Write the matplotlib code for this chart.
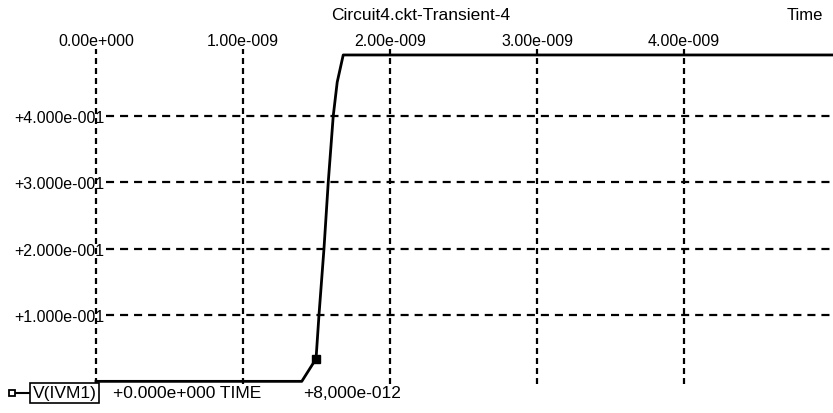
import numpy as np
import matplotlib.pyplot as plt
from matplotlib.lines import Line2D

plt.rcParams['font.family'] = ['Liberation Sans', 'DejaVu Sans']
plt.rcParams['lines.scale_dashes'] = False

# transient response of V(IVM1)
t_ns = [0.0, 1.40, 1.497, 1.517, 1.551, 1.580, 1.614, 1.641, 1.682, 5.02]
v_out = [0.0, 0.0, 0.034, 0.10, 0.20, 0.30, 0.40, 0.451, 0.492, 0.492]
marker_t = 1.497
marker_v = 0.034

x_ticks = [0.0, 1e-9, 2e-9, 3e-9, 4e-9]
x_labels = ['0.00e+000', '1.00e-009', '2.00e-009', '3.00e-009', '4.00e-009']
y_ticks = [0.1, 0.2, 0.3, 0.4]
y_labels = ['+1.000e-001', '+2.000e-001', '+3.000e-001', '+4.000e-001']

t = np.array(t_ns) * 1e-9
t_end = 5.014e-9

fig = plt.figure(figsize=(8.33, 4.14), dpi=100)
ax = fig.add_axes([96 / 833, 1 - 385 / 414, 737 / 833, 335 / 414])
ax.set_xlim(0, t_end)
ax.set_ylim(-0.004, 0.501)
for s in ax.spines.values():
    s.set_visible(False)

ax.set_xticks(x_ticks, x_labels)
ax.set_yticks(y_ticks, y_labels)
ax.tick_params(axis='x', top=False, bottom=False, labeltop=True, labelbottom=False,
               length=0, pad=0.5, labelsize=11.5)
ax.tick_params(axis='y', left=False, length=0, pad=-6, labelsize=11.5)

# vertical grid through the time ticks, horizontal grid starting past the labels
ax.grid(axis='x', color='black', lw=1.6, linestyle=(0, (4.3, 2.9)))
for gl in ax.get_xgridlines():
    gl.set_clip_on(False)
ax.hlines(y_ticks, 0.07e-9, t_end, color='black', lw=1.6, linestyle=(0, (5.8, 4.3)))

ax.plot(t, v_out, color='black', lw=2, clip_on=False, zorder=3)
ax.plot([marker_t * 1e-9], [marker_v], marker='s', ms=5.5, color='black',
        clip_on=False, zorder=4)

fig.text(421 / 833, 1 - 15 / 414, 'Circuit4.ckt-Transient-4', ha='center', va='center', fontsize=12.5)
fig.text(805 / 833, 1 - 15 / 414, 'Time', ha='center', va='center', fontsize=12)

# legend row under the plot
row_y = 1 - 394 / 414
fig.add_artist(Line2D([14 / 833, 30 / 833], [row_y] * 2, color='black', lw=1.5,
                      transform=fig.transFigure))
fig.add_artist(Line2D([12 / 833], [row_y], marker='s', ms=4, mfc='white', mec='black',
                      mew=1.3, transform=fig.transFigure))
fig.text(33 / 833, row_y, 'V(IVM1)', ha='left', va='center', fontsize=12.5,
         bbox=dict(boxstyle='square,pad=0.15', fc='white', ec='black', lw=1.2))
fig.text(113 / 833, row_y, '+0.000e+000 TIME', ha='left', va='center', fontsize=12.5)
fig.text(303 / 833, row_y, '+8,000e-012', ha='left', va='center', fontsize=12.5)

fig.savefig('out.png', dpi=100)
